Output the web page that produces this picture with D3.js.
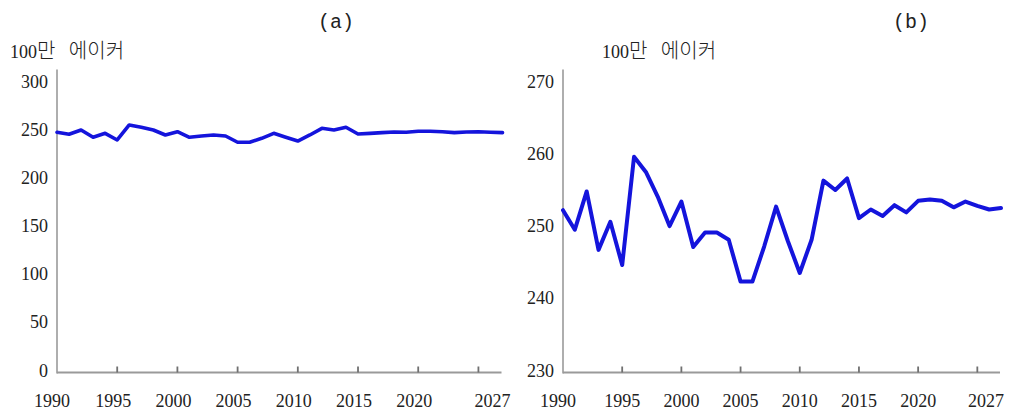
<!DOCTYPE html>
<html>
<head>
<meta charset="utf-8">
<script src="https://cdn.jsdelivr.net/npm/d3@7"></script>
<style>
  html, body { margin: 0; padding: 0; background: #ffffff; }
  svg { display: block; }
  .num { font-family: "Liberation Serif", "DejaVu Serif", serif; font-size: 18px; fill: #222; }
  .unit { font-size: 20px; fill: #222; }
  .unit .d { font-family: "Liberation Serif", "DejaVu Serif", serif; font-size: 18px; }
  .unit .h { font-family: "Noto Sans CJK KR", sans-serif; font-weight: 300; }
  .title { font-family: "Liberation Mono", "DejaVu Sans Mono", monospace; font-size: 20px; fill: #222; }
</style>
</head>
<body>
<svg id="chart" width="1010" height="412"></svg>
<script>
// ---- data ----
const years = d3.range(1990, 2028);
// panel (a): full-scale view (million acres)
const panelAValues = [249.8, 247.7, 252.2, 244.6, 248.7, 241.8, 257.4, 255.0, 252.2, 247.0,
                      250.4, 244.6, 245.9, 247.0, 245.9, 239.4, 239.4, 243.5, 248.7, 244.6,
                      240.7, 247.0, 253.9, 252.2, 255.0, 248.0, 248.7, 249.4, 250.1, 249.8,
                      250.8, 250.8, 250.4, 249.4, 250.1, 250.4, 249.8, 249.4];
// panel (b): zoomed view (million acres)
const panelBValues = [252.5, 249.8, 255.1, 247.0, 250.9, 244.9, 259.9, 257.8, 254.4, 250.3,
                      253.7, 247.4, 249.4, 249.4, 248.4, 242.6, 242.6, 247.5, 253.0, 248.2,
                      243.8, 248.4, 256.6, 255.3, 256.9, 251.4, 252.6, 251.7, 253.2, 252.2,
                      253.8, 254.0, 253.8, 252.9, 253.7, 253.1, 252.6, 252.8];
const xTickMarks = [1995, 2000, 2005, 2010, 2015, 2020, 2025];
const xTickLabels = [1990, 1995, 2000, 2005, 2010, 2015, 2020, 2027];
const yTicksA = [0, 50, 100, 150, 200, 250, 300];
const yTicksB = [230, 240, 250, 260, 270];
const unitParts = ["100", "만", " 에이커"];   // "100만 에이커"
const titles = ["(a)", "(b)"];

const svg = d3.select("#chart");

const panels = [
  { values: panelAValues, yDomain: [0, 300], yTicks: yTicksA,
    xRange: [57, 502.5], title: titles[0], titleX: 336, unitX: 10,
    labelDx: -4, lastDx: -10, lineW: 3.6 },
  { values: panelBValues, yDomain: [230, 270], yTicks: yTicksB,
    xRange: [563, 1001], title: titles[1], titleX: 911, unitX: 602,
    labelDx: 0, lastDx: -15, lineW: 4 }
];

const axisBottom = 372.5, axisTopY = 69.5;

panels.forEach(p => {
  const x = d3.scaleLinear().domain([1990, 2027]).range(p.xRange);
  const y = d3.scaleLinear().domain(p.yDomain).range([axisBottom, 84]);
  const g = svg.append("g");

  // title
  g.append("text").attr("class", "title")
    .attr("x", p.titleX).attr("y", 22)
    .attr("text-anchor", "middle").attr("dominant-baseline", "central")
    .text(p.title);

  // unit label
  const u = g.append("text").attr("class", "unit")
    .attr("x", p.unitX).attr("y", 58);
  u.selectAll("tspan").data(unitParts).join("tspan")
    .attr("class", (d, i) => i === 0 ? "d" : "h")
    .attr("dx", (d, i) => i === 2 ? 9 : 0)
    .text(d => d);

  // y axis line
  g.append("line")
    .attr("x1", x(1990)).attr("x2", x(1990))
    .attr("y1", axisTopY).attr("y2", axisBottom + 1)
    .attr("stroke", "#9a9a9a").attr("stroke-width", 1.6);

  // x axis line
  g.append("line")
    .attr("x1", x(1990)).attr("x2", x(2027) - 1)
    .attr("y1", axisBottom).attr("y2", axisBottom)
    .attr("stroke", "#9a9a9a").attr("stroke-width", 2);

  // tick marks
  g.selectAll("line.tick").data(xTickMarks).join("line")
    .attr("class", "tick")
    .attr("x1", d => x(d)).attr("x2", d => x(d))
    .attr("y1", axisBottom - 6).attr("y2", axisBottom)
    .attr("stroke", "#707070").attr("stroke-width", 1.8);

  // x labels
  g.selectAll("text.xl").data(xTickLabels).join("text")
    .attr("class", "num xl")
    .attr("x", (d, i) => x(d) + (i === xTickLabels.length - 1 ? p.lastDx : (d === 1990 ? Math.min(p.labelDx, -5) : p.labelDx)))
    .attr("y", 401)
    .attr("text-anchor", "middle").attr("dominant-baseline", "central")
    .text(d => d);

  // y labels
  g.selectAll("text.yl").data(p.yTicks).join("text")
    .attr("class", "num yl")
    .attr("x", x(1990) - 9)
    .attr("y", d => y(d) - 2)
    .attr("text-anchor", "end").attr("dominant-baseline", "central")
    .text(d => d);

  // series line
  const line = d3.line().x((d, i) => x(years[i])).y(d => y(d));
  g.append("path")
    .datum(p.values)
    .attr("d", line)
    .attr("fill", "none")
    .attr("stroke", "#1414dc")
    .attr("stroke-width", p.lineW)
    .attr("stroke-linejoin", "round")
    .attr("stroke-linecap", "round");
});
</script>
</body>
</html>
